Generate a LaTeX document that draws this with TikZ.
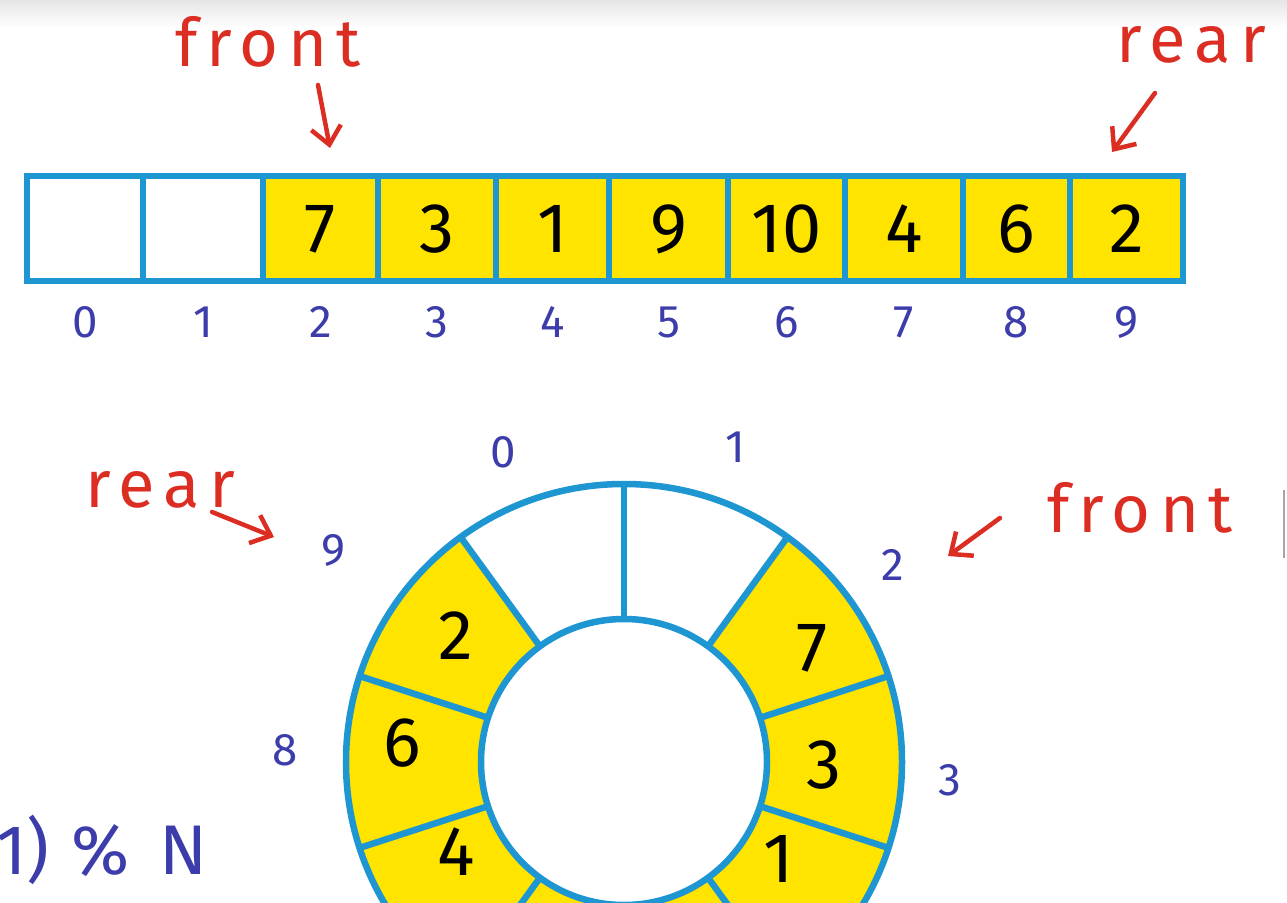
\documentclass[tikz,border=0pt]{standalone}
\usepackage{fontspec}
\setmainfont{Fira Sans}
\newfontfamily\handfont[LetterSpace=14]{Fira Sans}
\usepackage{xcolor}
\definecolor{colCell}{RGB}{255,228,0}
\definecolor{colEdge}{RGB}{30,150,210}
\definecolor{colPtr}{RGB}{220,45,35}
\definecolor{colIdx}{RGB}{60,60,170}
\usepackage{tikz}
\usetikzlibrary{arrows.meta}

\begin{document}
\begin{tikzpicture}[x=0.2mm, y=-0.2mm,
		edge/.style={draw=colEdge, line width=1.1mm},
		val/.style={font=\fontsize{40}{40}\selectfont, text=black},
		idx/.style={font=\fontsize{26}{26}\selectfont, text=colIdx},
		ptrlabel/.style={font=\handfont\fontsize{38}{38}\selectfont, text=colPtr},
		ptr/.style={draw=colPtr, line width=0.9mm, line cap=round, -{Straight Barb[length=3.5mm, width=6mm]}}]
	\useasboundingbox (0,0) rectangle (1287,903);
	\clip (0,0) rectangle (1287,903);
	\shade[top color=gray!20, bottom color=white] (0,0) rectangle (1287,28);
	% linear array
	\foreach \i/\xa/\xb/\fillc/\v in {0/27/143/white/, 1/143/263/white/, 2/263/378/colCell/7, 3/378/496/colCell/3,
			4/496/609/colCell/1, 5/609/728/colCell/9, 6/728/845/colCell/10, 7/845/963/colCell/4,
			8/963/1070/colCell/6, 9/1070/1183/colCell/2} {
		\filldraw[fill=\fillc, edge] (\xa,176) rectangle (\xb,281);
		\node[val] (cell\i) at ({(\xa+\xb)/2},229) {\v};
		\node[idx] (idx\i) at ({(\xa+\xb)/2},322) {\i};
	}
	% circular array
	\begin{scope}[shift={(624,762)}]
		\foreach \k/\fillc/\v/\ang/\rad in {0/white//108/42mm, 1/white//72/42mm, 2/colCell/7/31/44mm,
				3/colCell/3/-1/40mm, 4/colCell/1/-32/36.5mm, 5/colCell/9/-72/42mm, 6/colCell/10/-108/42mm,
				7/colCell/4/-152/38mm, 8/colCell/6/175/44.5mm, 9/colCell/2/143/42mm} {
			\pgfmathsetmacro{\a}{126-36*\k}
			\pgfmathsetmacro{\b}{90-36*\k}
			\fill[\fillc] (\a:28.6mm) arc[start angle=\a, end angle=\b, radius=28.6mm]
				-- (\b:55.6mm) arc[start angle=\b, end angle=\a, radius=55.6mm] -- cycle;
			\node[val] (slot\k) at (\ang:\rad) {\v};
		}
		\foreach \a in {90,54,...,-234}
			\draw[edge, line width=1.3mm] (\a:28.6mm) -- (\a:55.6mm);
		\draw[edge, line width=1.3mm] (0,0) circle[radius=28.6mm];
		\draw[edge, line width=1.3mm] (0,0) circle[radius=55.6mm];
	\end{scope}
	\node[idx] (ring0) at (503,452) {0};
	\node[idx] (ring1) at (735,447) {1};
	\node[idx] (ring2) at (893,565) {2};
	\node[idx] (ring3) at (950,780) {3};
	\node[idx] (ring8) at (285,750) {8};
	\node[idx] (ring9) at (333,550) {9};
	% pointers
	\node[ptrlabel] (frontA) at (268,42) {front};
	\node[ptrlabel, anchor=west] (rearA) at (1110,45) {rear};
	\node[ptrlabel] (rearB) at (160,490) {rear};
	\node[ptrlabel] (frontB) at (1140,508) {front};
	\coordinate (frontATail) at (318,85);
	\coordinate (frontATip) at (330,148);
	\coordinate (rearATail) at (1155,93);
	\coordinate (rearATip) at (1112,152);
	\coordinate (rearBTail) at (212,512);
	\coordinate (rearBTip) at (274,537);
	\coordinate (frontBTail) at (1000,518);
	\coordinate (frontBTip) at (948,556);
	\draw[ptr] (frontATail) -- (frontATip);
	\draw[ptr] (rearATail) -- (rearATip);
	\draw[ptr] (rearBTail) -- (rearBTip);
	\draw[ptr] (frontBTail) -- (frontBTip);
	\node[font=\fontsize{40}{40}\selectfont, text=colIdx, anchor=west] (modN) at (-10,850) {1)\hspace{4.5mm}\%\hspace{6mm}N};
	\draw[gray!70, line width=0.5mm] (1284,490) -- (1284,558);
\end{tikzpicture}
\end{document}
